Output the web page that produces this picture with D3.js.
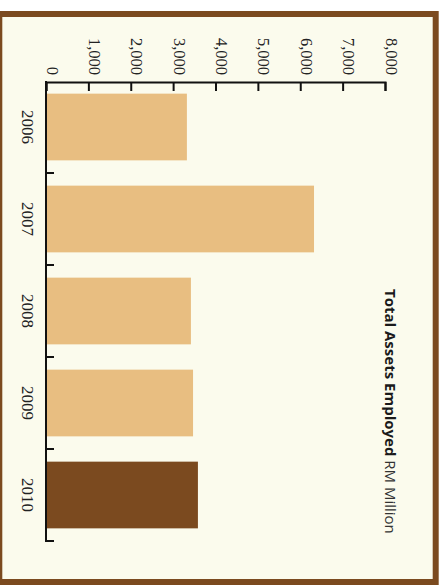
<!DOCTYPE html>
<html>
<head>
<meta charset="utf-8">
<script src="https://cdn.jsdelivr.net/npm/d3@7"></script>
<style>
  html, body { margin: 0; padding: 0; background: #ffffff; }
  svg { display: block; }
</style>
</head>
<body>
<svg id="chart" width="444" height="586"></svg>
<script>
// Total assets employed, RM million
const years = ["2006", "2007", "2008", "2009", "2010"];
const assets = [3325, 6325, 3420, 3470, 3585];
const valueTicks = [0, 1000, 2000, 3000, 4000, 5000, 6000, 7000, 8000];
const highlightYear = "2010";

const cream = "#fbfbed";
const brown = "#7b4a1f";
const tan = "#e8be81";
const ink = "#111111";

const svg = d3.select("#chart");

// framed panel
svg.append("rect")
  .attr("x", -0.7).attr("y", 14)
  .attr("width", 436.4).attr("height", 568)
  .attr("fill", cream)
  .attr("stroke", brown)
  .attr("stroke-width", 6);

// the chart is laid out turned a quarter turn: values run left to right, years top to bottom
const x = d3.scaleLinear().domain([0, 8000]).range([46, 385]);
const y = d3.scaleBand().domain(years).range([81, 541])
  .paddingInner(0.275).paddingOuter(0.1375);

const rows = years.map((yr, i) => ({ year: yr, value: assets[i] }));

svg.append("g").selectAll("rect")
  .data(rows)
  .join("rect")
  .attr("x", x(0))
  .attr("y", d => y(d.year))
  .attr("width", d => x(d.value) - x(0))
  .attr("height", y.bandwidth())
  .attr("fill", d => d.year === highlightYear ? brown : tan);

// value axis along the top
const valueAxis = svg.append("g")
  .attr("transform", "translate(0,82)")
  .call(d3.axisBottom(x).tickValues(valueTicks).tickSize(9).tickSizeOuter(9)
    .tickFormat(d3.format(",")));
valueAxis.selectAll("path, line").attr("stroke", ink).attr("stroke-width", 2);
valueAxis.selectAll("text")
  .attr("x", 0).attr("y", 0).attr("dy", null)
  .attr("transform", "translate(0,-7) rotate(90)")
  .attr("text-anchor", "end")
  .attr("fill", "#222")
  .style("font-family", "'Liberation Serif', serif")
  .style("font-size", "16.5px");

// year axis down the left side
const yearAxis = svg.append("g")
  .attr("transform", "translate(46,0)")
  .call(d3.axisLeft(y).tickSize(0).tickSizeOuter(0));
yearAxis.select(".domain").remove();
yearAxis.selectAll("text")
  .attr("x", 0).attr("y", 0).attr("dy", null)
  .attr("transform", "translate(-24,0) rotate(90)")
  .attr("text-anchor", "middle")
  .attr("fill", "#222")
  .style("font-family", "'Liberation Serif', serif")
  .style("font-size", "17px");

// spine and separators between the years
const step = y.step();
const gap = step * y.paddingInner() / 2;
const bounds = years.map(yr => y(yr) - gap).concat([y(years[years.length - 1]) + y.bandwidth() + gap]);

svg.append("line")
  .attr("x1", 46).attr("x2", 46)
  .attr("y1", 81).attr("y2", bounds[bounds.length - 1] + 1)
  .attr("stroke", ink).attr("stroke-width", 2);

svg.append("g").selectAll("line")
  .data(bounds.slice(1))
  .join("line")
  .attr("x1", 46).attr("x2", 54)
  .attr("y1", d => d).attr("y2", d => d)
  .attr("stroke", ink).attr("stroke-width", 2);

// title
const title = svg.append("text")
  .attr("transform", "translate(385,289) rotate(90)")
  .attr("fill", "#1a1a1a")
  .style("font-family", "'Open Sans', sans-serif")
  .style("font-size", "15px");
title.append("tspan").attr("font-weight", "bold").text("Total Assets Employed");
title.append("tspan").attr("fill", "#333").text(" RM Million");
</script>
</body>
</html>
